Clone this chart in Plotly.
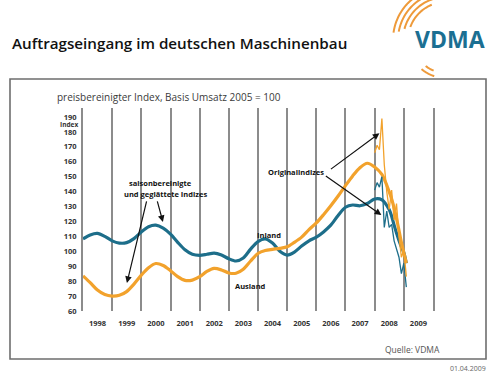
import math
import plotly.graph_objects as go

# ---------------- data ----------------
smooth_dates = ["1998-01", "1998-04", "1998-07", "1998-10",
                "1999-01", "1999-04", "1999-07", "1999-10",
                "2000-01", "2000-04", "2000-07", "2000-10",
                "2001-01", "2001-04", "2001-07", "2001-10",
                "2002-01", "2002-04", "2002-07", "2002-10",
                "2003-01", "2003-04", "2003-07", "2003-10",
                "2004-01", "2004-04", "2004-07", "2004-10",
                "2005-01", "2005-04", "2005-07", "2005-10",
                "2006-01", "2006-04", "2006-07", "2006-10",
                "2007-01", "2007-04", "2007-07", "2007-10",
                "2008-01", "2008-04", "2008-07", "2008-08", "2008-09",
                "2008-10", "2008-11", "2008-12", "2009-01", "2009-02"]

inland_smooth = [108.3, 111.0, 112.0, 110.0,
                 107.0, 105.5, 105.8, 108.5,
                 113.0, 116.5, 117.5, 115.5,
                 111.5, 106.0, 101.0, 98.0,
                 97.3, 98.0, 98.8, 97.5,
                 95.0, 93.5, 95.5, 101.5,
                 106.5, 108.3, 105.5, 100.0,
                 97.5, 99.5, 103.5, 107.0,
                 109.5, 113.0, 117.5, 124.0,
                 129.5, 131.0, 130.5, 132.0,
                 135.0, 134.5, 128.0, 123.5, 117.5,
                 112.2, 107.3, 103.0, 99.0, 92.0]

ausland_smooth = [83.5, 79.0, 74.0, 71.0,
                  70.0, 70.5, 73.0, 78.0,
                  84.0, 89.0, 91.8, 90.5,
                  87.0, 83.0, 80.5, 80.7,
                  83.0, 86.5, 88.5, 87.5,
                  85.5, 85.3, 88.0, 93.5,
                  98.5, 100.5, 101.3, 102.0,
                  103.0, 106.0, 109.5, 114.5,
                  119.0, 124.5, 130.5, 137.0,
                  144.0, 150.5, 156.0, 159.0,
                  156.5, 151.5, 140.0, 135.0, 129.0,
                  122.0, 114.0, 106.0, 99.0, 92.0]

orig_dates = ["2008-01", "2008-02", "2008-03", "2008-04", "2008-05", "2008-06",
              "2008-07", "2008-08", "2008-09", "2008-10", "2008-11", "2008-12",
              "2009-01", "2009-02"]
inland_orig = [141, 146, 143, 150, 116, 127, 116, 118, 107, 102, 96, 85, 92, 76]
ausland_orig = [166, 171, 168, 189, 158, 140, 128, 141, 121, 132, 110, 96, 101, 83]

y_ticks = [60, 70, 80, 90, 100, 110, 120, 130, 140, 150, 160, 170, 180, 190]

TEAL = "#1d6e8a"
ORANGE = "#f2a22c"

# ---------------- layout helpers ----------------
W, H = 500, 376
L, R, T, B = 83, 433, 108, 311


def px(x):
    return (x - L) / (R - L)


def py(y):
    return (B - y) / (B - T)


fig = go.Figure()
fig.add_trace(go.Scatter(x=smooth_dates, y=inland_smooth, mode="lines",
                         line=dict(color=TEAL, width=3.2, shape="spline", smoothing=0.8),
                         hoverinfo="skip"))
fig.add_trace(go.Scatter(x=smooth_dates, y=ausland_smooth, mode="lines",
                         line=dict(color=ORANGE, width=3.2, shape="spline", smoothing=0.8),
                         hoverinfo="skip"))
fig.add_trace(go.Scatter(x=orig_dates, y=inland_orig, mode="lines",
                         line=dict(color=TEAL, width=1.3), hoverinfo="skip"))
fig.add_trace(go.Scatter(x=orig_dates, y=ausland_orig, mode="lines",
                         line=dict(color=ORANGE, width=1.3), hoverinfo="skip"))

tickfont = dict(family="Open Sans", size=7.5, color="#333333", weight="bold")

fig.update_layout(
    width=W, height=H,
    margin=dict(l=L, r=W - R, t=T, b=H - B, pad=0),
    paper_bgcolor="white", plot_bgcolor="white",
    showlegend=False,
    xaxis=dict(type="date", range=["1998-01-01", "2010-01-01"],
               dtick="M12", tick0="1998-01-01", tickformat="%Y",
               ticklabelmode="period", showgrid=True,
               gridcolor="#8c8c8c", gridwidth=2,
               ticks="outside", ticklen=5, tickcolor="rgba(0,0,0,0)",
               tickfont=tickfont, showline=False, zeroline=False),
    yaxis=dict(range=[60, 196], tickvals=y_ticks, showgrid=False,
               ticks="outside", ticklen=3, tickcolor="rgba(0,0,0,0)",
               tickfont=tickfont, showline=True, linecolor="#8c8c8c",
               linewidth=2, mirror=True, zeroline=False),
)

shapes = []
# outer frame
shapes.append(dict(type="rect", xref="paper", yref="paper",
                   x0=px(10), x1=px(486), y0=py(359), y1=py(79),
                   line=dict(color="#6e6e6e", width=1.6), fillcolor="rgba(0,0,0,0)",
                   layer="below"))

# logo arcs
cx, cy = 446, 40


def arc_path(r, a0, a1, n=24):
    pts = []
    for i in range(n + 1):
        a = math.radians(a0 + (a1 - a0) * i / n)
        x = cx + r * math.cos(a)
        y = cy + r * math.sin(a)
        pts.append(f"{px(x):.4f},{py(y):.4f}")
    return "M " + " L ".join(pts)


for r, a0, a1 in [(38, -112, -160), (43, -108, -165), (48, -104, -170), (53, -100, -172)]:
    shapes.append(dict(type="path", xref="paper", yref="paper", path=arc_path(r, a0, a1),
                       line=dict(color="#ee9a3a", width=2)))
for r, a0, a1 in [(33, 112, 128), (38, 108, 130)]:
    shapes.append(dict(type="path", xref="paper", yref="paper", path=arc_path(r, a0, a1),
                       line=dict(color="#ee9a3a", width=2)))
fig.update_layout(shapes=shapes)

ann = []


def text(x, y, s, size, color="#222", weight="normal", xanchor="center", family="Open Sans"):
    ann.append(dict(x=px(x), y=py(y), xref="paper", yref="paper", text=s, showarrow=False,
                    xanchor=xanchor, yanchor="middle",
                    font=dict(family=family, size=size, color=color, weight=weight)))


text(10, 43, "Auftragseingang im deutschen Maschinenbau", 15.2, "#111", 600, "left")
text(450, 39, "VDMA", 23, "#1b6f92", "bold")
text(55, 97, "preisbereinigter Index, Basis Umsatz 2005 = 100", 10, "#3a3a3a", "normal", "left")
text(80, 124.5, "Index", 6.5, "#333", "bold", "right")
text(160, 183, "saisonbereinigte", 7.5, "#111", "bold")
text(165, 194, "und geglättete Indizes", 7.5, "#111", "bold")
text(296, 172, "Originalindizes", 7.5, "#111", "bold")
text(255, 235, "Inland", 7.5, "#111", "bold", "left")
text(233, 286, "Ausland", 7.5, "#111", "bold", "left")
text(412, 349, "Quelle: VDMA", 8.5, "#555", "normal")
text(488, 368, "01.04.2009", 7, "#666", "normal", "right")


def arrow(tip_x, tip_y, dx, dy):
    ann.append(dict(x=tip_x, y=tip_y, xref="x", yref="y", ax=dx, ay=dy,
                    axref="pixel", ayref="pixel", text="", showarrow=True,
                    arrowhead=2, arrowsize=1.1, arrowwidth=1.2, arrowcolor="#111"))


arrow("1999-07-05", 78.8, 20, -83)
arrow("2000-09-28", 119.7, -6, -22)
arrow("2008-03-01", 179.1, -50, 37)
arrow("2008-03-25", 124.3, -57, -40)

fig.update_layout(annotations=ann)
fig.write_html("out.html", config={"displayModeBar": False},
               post_script="document.body.style.margin='0';document.body.style.overflow='hidden';")
